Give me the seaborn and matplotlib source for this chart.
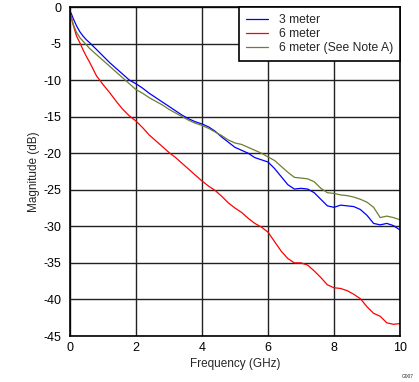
import numpy as np
import pandas as pd
import matplotlib
matplotlib.use("Agg")
import matplotlib.pyplot as plt
import seaborn as sns

freq = [0.03, 0.1, 0.2, 0.3, 0.4, 0.5, 0.6, 0.8, 1.0, 1.2, 1.4, 1.6, 1.8, 2.0,
        2.2, 2.4, 2.6, 2.8, 3.0, 3.2, 3.4, 3.6, 3.8, 4.0, 4.2, 4.4, 4.6, 4.8,
        5.0, 5.2, 5.4, 5.6, 5.8, 6.0, 6.2, 6.4, 6.6, 6.8, 7.0, 7.2, 7.4, 7.6,
        7.8, 8.0, 8.2, 8.4, 8.6, 8.8, 9.0, 9.2, 9.4, 9.6, 9.8, 10.0]

blue_3m = [-0.8, -1.6, -2.6, -3.4, -4.0, -4.5, -4.9, -5.8, -6.7, -7.6, -8.4, -9.2, -10.0, -10.5,
           -11.1, -11.8, -12.4, -13.0, -13.6, -14.2, -14.8, -15.3, -15.7, -16.0, -16.4, -17.0, -17.8, -18.5,
           -19.2, -19.6, -20.0, -20.6, -20.9, -21.2, -22.1, -23.2, -24.3, -24.9, -24.8, -24.9, -25.4, -26.3,
           -27.2, -27.4, -27.1, -27.2, -27.3, -27.7, -28.5, -29.6, -29.8, -29.6, -29.9, -30.5]

red_6m = [-1.2, -2.5, -4.0, -4.9, -5.9, -6.8, -7.6, -9.4, -10.6, -11.7, -12.9, -14.0, -14.9, -15.6,
          -16.5, -17.5, -18.3, -19.1, -19.9, -20.6, -21.4, -22.2, -23.0, -23.8, -24.5, -25.1, -25.9, -26.8,
          -27.5, -28.1, -28.9, -29.6, -30.1, -30.8, -32.1, -33.4, -34.4, -35.0, -35.0, -35.3, -36.1, -37.0,
          -38.0, -38.4, -38.5, -38.8, -39.3, -39.9, -41.0, -41.9, -42.3, -43.2, -43.4, -43.3]

olive_6m_a = [-1.4, -2.4, -3.5, -4.2, -4.7, -5.2, -5.7, -6.5, -7.3, -8.1, -8.9, -9.7, -10.5, -11.3,
              -11.8, -12.4, -12.9, -13.4, -14.0, -14.5, -15.0, -15.5, -15.9, -16.2, -16.6, -17.1, -17.6, -18.2,
              -18.6, -18.8, -19.2, -19.6, -20.0, -20.5, -21.0, -21.8, -22.6, -23.3, -23.4, -23.5, -23.9, -24.8,
              -25.4, -25.5, -25.7, -25.8, -26.0, -26.3, -26.7, -27.4, -28.8, -28.6, -28.8, -29.1]

series_names = ["3 meter", "6 meter", "6 meter (See Note A)"]
series_colors = ["#0000FF", "#FF0000", "#6B7F32"]
x_ticks = [0, 2, 4, 6, 8, 10]
y_ticks = [0, -5, -10, -15, -20, -25, -30, -35, -40, -45]

df = pd.concat([
    pd.DataFrame({"f": freq, "mag": blue_3m, "s": series_names[0]}),
    pd.DataFrame({"f": freq, "mag": red_6m, "s": series_names[1]}),
    pd.DataFrame({"f": freq, "mag": olive_6m_a, "s": series_names[2]}),
], ignore_index=True)

sns.set_style("white")
plt.rcParams["font.family"] = ["Liberation Sans", "DejaVu Sans"]
plt.rcParams["axes.unicode_minus"] = False

fig = plt.figure(figsize=(4.19, 3.82), dpi=100)
ax = fig.add_axes([70 / 419, 1 - 336 / 382, 330 / 419, 329 / 382])

sns.lineplot(data=df, x="f", y="mag", hue="s", hue_order=series_names,
             palette=dict(zip(series_names, series_colors)), linewidth=0.9,
             ax=ax, sort=False)

ax.set_xlim(0, 10)
ax.set_ylim(-45, 0)
ax.set_xticks(x_ticks)
ax.set_yticks(y_ticks)
ax.grid(True, color="#222222", linewidth=1.0)
ax.set_axisbelow(True)
for sp in ax.spines.values():
    sp.set_color("black")
    sp.set_linewidth(1.2)
ax.tick_params(axis="y", labelsize=9, length=0, pad=6, colors="black")
ax.tick_params(axis="x", labelsize=9, length=0, pad=4, colors="black")
ax.set_xlabel("Frequency (GHz)", fontsize=8.5, labelpad=3)
ax.set_ylabel("Magnitude (dB)", fontsize=8.5, labelpad=3)

leg = ax.legend(loc="upper right", fontsize=8.7, frameon=True, fancybox=False,
                borderaxespad=0, handlelength=1.85, handletextpad=0.85,
                labelspacing=0.15, borderpad=0.6)
leg.get_frame().set_edgecolor("black")
leg.get_frame().set_linewidth(1.2)
leg.get_frame().set_alpha(1)

fig.text(408 / 419, 1 - 377 / 382, "G007", fontsize=3.5, ha="center", va="center")

fig.savefig("out.png", dpi=100)
